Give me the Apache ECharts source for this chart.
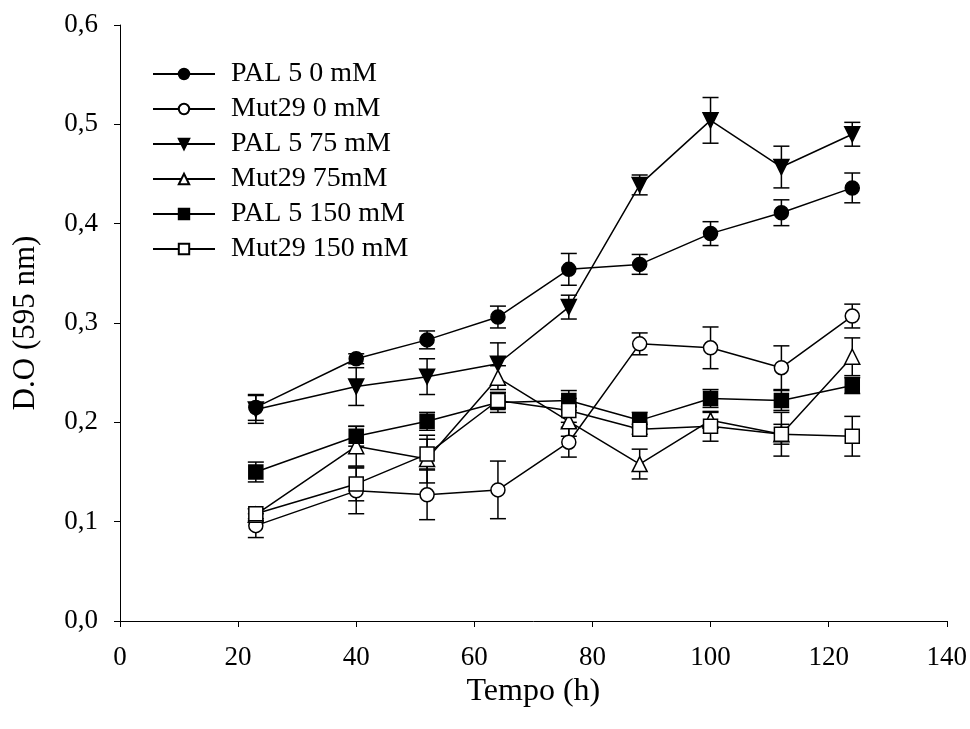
<!DOCTYPE html>
<html>
<head>
<meta charset="utf-8">
<script src="https://cdn.jsdelivr.net/npm/echarts@6/dist/echarts.min.js"></script>
<style>html,body{margin:0;padding:0;background:#fff}#c{width:970px;height:729px}</style>
</head>
<body>
<div id="c"></div>
<script>
const hours = [23, 40, 52, 64, 76, 88, 100, 112, 124];
const xTicks = [0, 20, 40, 60, 80, 100, 120, 140];
const yTicks = [0, 0.1, 0.2, 0.3, 0.4, 0.5, 0.6];

const seriesNames = ['PAL 5 0 mM', 'Mut29 0 mM', 'PAL 5 75 mM', 'Mut29 75mM', 'PAL 5 150 mM', 'Mut29 150 mM'];

const pal5_0 = [0.215, 0.264, 0.283, 0.306, 0.354, 0.359, 0.390, 0.411, 0.436];
const pal5_0_err = [0.013, 0.005, 0.009, 0.011, 0.016, 0.010, 0.012, 0.013, 0.015];

const mut29_0 = [0.096, 0.131, 0.127, 0.132, 0.180, 0.279, 0.275, 0.255, 0.307];
const mut29_0_err = [0.012, 0.023, 0.025, 0.029, 0.015, 0.011, 0.021, 0.022, 0.012];

const pal5_75 = [0.213, 0.236, 0.246, 0.259, 0.316, 0.439, 0.504, 0.457, 0.490];
const pal5_75_err = [0.014, 0.019, 0.018, 0.021, 0.012, 0.010, 0.023, 0.021, 0.012];

const mut29_75 = [0.107, 0.176, 0.163, 0.245, 0.201, 0.158, 0.202, 0.188, 0.266];
const mut29_75_err = [0.006, 0.020, 0.024, 0.012, 0.015, 0.015, 0.008, 0.010, 0.019];

const pal5_150 = [0.150, 0.186, 0.201, 0.220, 0.222, 0.202, 0.224, 0.222, 0.237];
const pal5_150_err = [0.010, 0.010, 0.009, 0.010, 0.010, 0.008, 0.009, 0.010, 0.008];

const mut29_150 = [0.108, 0.138, 0.168, 0.222, 0.212, 0.193, 0.196, 0.188, 0.186];
const mut29_150_err = [0.005, 0.017, 0.015, 0.008, 0.012, 0.005, 0.015, 0.022, 0.020];

const values = [pal5_0, mut29_0, pal5_75, mut29_75, pal5_150, mut29_150];
const errors = [pal5_0_err, mut29_0_err, pal5_75_err, mut29_75_err, pal5_150_err, mut29_150_err];
const symbols = ['circle', 'circle', 'triangle', 'triangle', 'rect', 'rect'];
const rotates = [0, 0, 180, 0, 0, 0];
const filled = [true, false, true, false, true, false];

const FONT = '"Liberation Serif", "Times New Roman", serif';

const chart = echarts.init(document.getElementById('c'), null, {renderer: 'canvas'});

const series = [];
values.forEach((vals, i) => {
  const errs = errors[i];
  series.push({
    type: 'custom',
    name: seriesNames[i] + ' err',
    z: 2,
    silent: true,
    data: hours.map((h, k) => [h, vals[k], errs[k]]),
    renderItem: function (params, api) {
      const x = api.value(0), y = api.value(1), e = api.value(2);
      const top = api.coord([x, y + e]);
      const bot = api.coord([x, y - e]);
      const hw = 8;
      const st = {stroke: '#000', lineWidth: 1.5};
      return {
        type: 'group',
        children: [
          {type: 'line', shape: {x1: top[0], y1: top[1], x2: bot[0], y2: bot[1]}, style: st},
          {type: 'line', shape: {x1: top[0] - hw, y1: top[1], x2: top[0] + hw, y2: top[1]}, style: st},
          {type: 'line', shape: {x1: bot[0] - hw, y1: bot[1], x2: bot[0] + hw, y2: bot[1]}, style: st}
        ]
      };
    }
  });
});
values.forEach((vals, i) => {
  series.push({
    type: 'line',
    name: seriesNames[i],
    z: 3 + i,
    data: hours.map((h, k) => [h, vals[k]]),
    symbol: symbols[i],
    symbolRotate: rotates[i],
    symbolSize: symbols[i] === 'triangle' ? 15 : 14,
    showAllSymbol: true,
    lineStyle: {color: '#000', width: 1.5},
    itemStyle: {color: filled[i] ? '#000' : '#fff', borderColor: '#000', borderWidth: 1.5},
    emphasis: {disabled: true},
    animation: false
  });
});

chart.setOption({
  animation: false,
  backgroundColor: '#fff',
  grid: {left: 120, right: 22, top: 25, bottom: 108},
  legend: {
    data: seriesNames,
    orient: 'vertical',
    left: 147,
    top: 55,
    itemWidth: 62,
    itemHeight: 13,
    itemGap: 7,
    textStyle: {fontFamily: FONT, fontSize: 28, color: '#000', padding: [0, 0, 0, 11]},
    selectedMode: false
  },
  xAxis: {
    type: 'value',
    min: 0, max: 140, interval: 20,
    name: 'Tempo (h)',
    nameLocation: 'middle',
    nameGap: 45,
    nameTextStyle: {fontFamily: FONT, fontSize: 32, color: '#000'},
    axisLine: {lineStyle: {color: '#000', width: 1}},
    axisTick: {show: true, length: 6, lineStyle: {color: '#000'}},
    axisLabel: {fontFamily: FONT, fontSize: 27, color: '#000', margin: 23,
      formatter: v => xTicks.includes(v) ? String(v) : ''},
    splitLine: {show: false}
  },
  yAxis: {
    type: 'value',
    min: 0, max: 0.6, interval: 0.1,
    name: 'D.O (595 nm)',
    nameLocation: 'middle',
    nameGap: 79,
    nameRotate: 90,
    nameTextStyle: {fontFamily: FONT, fontSize: 31, color: '#000'},
    axisLine: {show: true, lineStyle: {color: '#000', width: 1}},
    axisTick: {show: true, length: 6, lineStyle: {color: '#000'}},
    axisLabel: {fontFamily: FONT, fontSize: 27, color: '#000', margin: 22,
      formatter: v => yTicks.some(t => Math.abs(t - v) < 1e-9) ? v.toFixed(1).replace('.', ',') : ''},
    splitLine: {show: false}
  },
  series: series
});
</script>
</body>
</html>
